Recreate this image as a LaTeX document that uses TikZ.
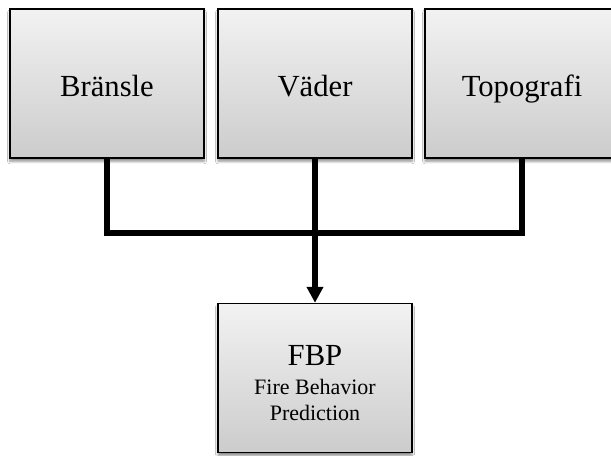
\documentclass[tikz,border=0pt]{standalone}
\usepackage{fontspec}
\setmainfont{Liberation Serif}
\usetikzlibrary{arrows.meta,shadows.blur}
\definecolor{boxtop}{RGB}{242,242,242}
\definecolor{boxbot}{RGB}{204,204,204}
\tikzset{
  px/.style={x=0.75pt,y=-0.75pt},
  factor/.style={draw=black, line width=1.1pt, top color=boxtop, bottom color=boxbot,
    minimum width=145.5pt, minimum height=111.75pt, inner sep=0pt,
    blur shadow={shadow xshift=0pt, shadow yshift=-2.5pt, shadow blur steps=6, shadow opacity=45}},
  bigtext/.style={font=\fontsize{23}{26}\selectfont, text height=20pt, text depth=0pt},
  link/.style={line width=3.8pt, line join=miter},
}
\begin{document}
\begin{tikzpicture}[px]
  \useasboundingbox (0,0) rectangle (611,455);
  \fill[white] (0,0) rectangle (611,455);
  % input boxes
  \node[factor, bigtext] (fuel)  at (107,83.5) {Bränsle};
  \node[factor, bigtext] (wx)    at (315,83.5) {Väder};
  \node[factor, bigtext] (topo)  at (522,83.5) {Topografi};
  % output box and its label
  \node[factor] (fbp) at (315,378) {};
  \node[align=center, inner sep=0pt, font=\fontsize{16.5}{19.5}\selectfont] (fbplabel) at (315,383)
    {{\fontsize{23}{20}\selectfont FBP}\\[2pt]Fire Behavior\\Prediction};
  % connectors
  \coordinate (jl) at (fuel.south |- 0,233);
  \coordinate (jr) at (topo.south |- 0,233);
  \draw[link] (fuel.south) -- (jl) -- (jr) -- (topo.south);
  \draw[link, -{Triangle[length=12pt,width=12pt]}] (wx.south) -- (fbp.north);
\end{tikzpicture}
\end{document}
